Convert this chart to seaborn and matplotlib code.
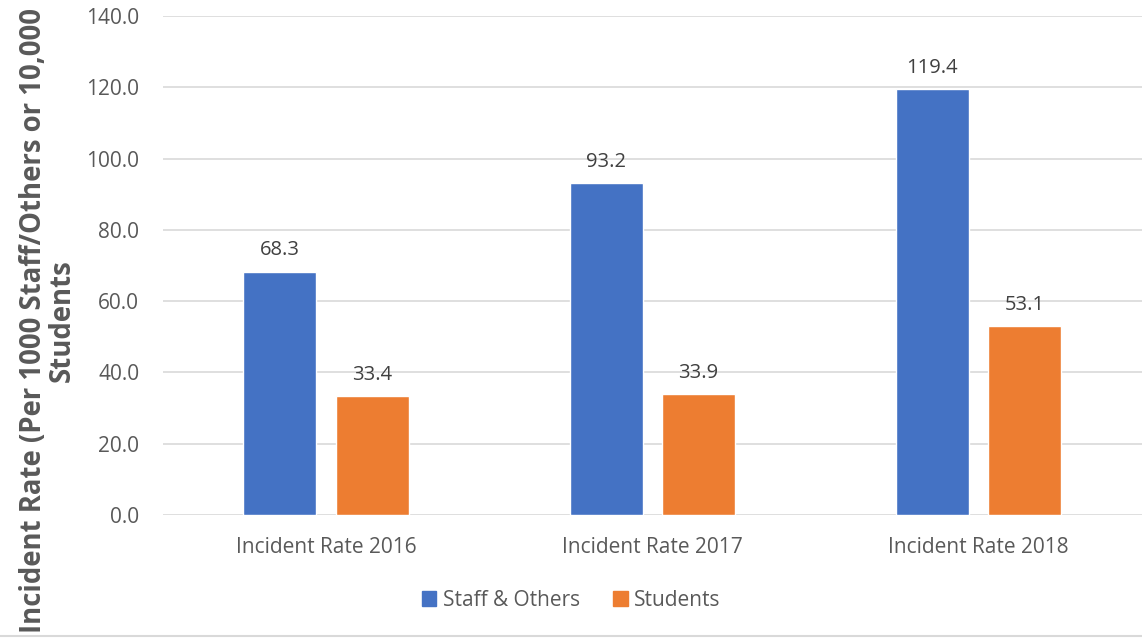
import matplotlib
matplotlib.use("Agg")
import matplotlib.pyplot as plt
import seaborn as sns
import pandas as pd

categories = ["Incident Rate 2016", "Incident Rate 2017", "Incident Rate 2018"]
series_names = ["Staff & Others", "Students"]
staff_values = [68.3, 93.2, 119.4]
student_values = [33.4, 33.9, 53.1]
colors = ["#4472C4", "#ED7D31"]
y_ticks = [0, 20, 40, 60, 80, 100, 120, 140]

sns.set_theme(style="white")
plt.rcParams['font.family'] = ['Open Sans', 'DejaVu Sans']

df = pd.DataFrame({
    "cat": categories * 2,
    "series": [series_names[0]] * 3 + [series_names[1]] * 3,
    "value": staff_values + student_values,
})

fig = plt.figure(figsize=(11.42, 6.4), dpi=100)
ax = fig.add_axes([0.1427, 0.1953, 0.857, 0.7797])
sns.barplot(data=df, x="cat", y="value", hue="series", palette=colors,
            width=0.566, gap=0.21, ax=ax, errorbar=None, saturation=1)

ax.set_ylim(0, 140)
ax.set_xlim(-0.5, 2.5)
ax.set_yticks(y_ticks)
ax.set_yticklabels([f"{v:.1f}" for v in y_ticks])
ax.yaxis.grid(True, color="#D9D9D9", linewidth=1.2)
ax.set_axisbelow(True)
for s in ax.spines.values():
    s.set_visible(False)
ax.tick_params(axis="y", length=0, pad=17, labelsize=15, labelcolor="#595959")
ax.tick_params(axis="x", length=0, pad=16, labelsize=15, labelcolor="#595959")
ax.set_xlabel("")
ax.set_ylabel("Incident Rate (Per 1000 Staff/Others or 10,000\nStudents",
              fontsize=19.8, fontweight="bold", color="#595959", linespacing=1.0)
ax.yaxis.set_label_coords(-0.088, 0.39)

for cont in ax.containers:
    ax.bar_label(cont, fmt="%.1f", padding=8, fontsize=14.5, color="#404040")

ax.get_legend().remove()
handles = [plt.Rectangle((0, 0), 1, 1, color=c) for c in colors]
fig.legend(handles, series_names, loc="center", bbox_to_anchor=(0.5, 0.062),
           ncol=2, frameon=False, fontsize=15, handlelength=0.7, handleheight=0.7,
           columnspacing=1.6, handletextpad=0.3, labelcolor="#595959")

fig.add_artist(plt.Line2D([0, 1], [0.006, 0.006], color="#D9D9D9", linewidth=1.5,
                          transform=fig.transFigure))
fig.savefig("out.png", dpi=100)
